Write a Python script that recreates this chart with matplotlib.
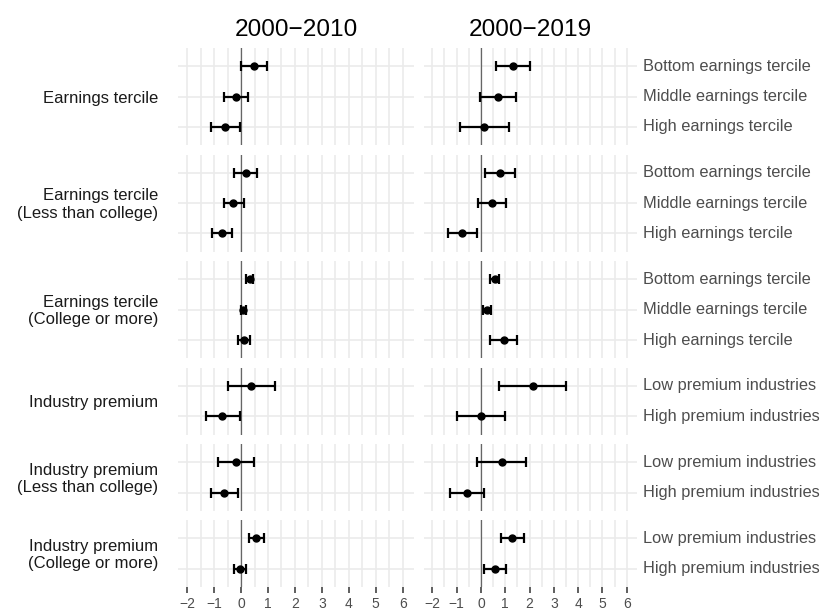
import numpy as np
import matplotlib
matplotlib.use('Agg')
import matplotlib.pyplot as plt

plt.rcParams['font.family'] = ['Liberation Sans', 'DejaVu Sans']

# row groups (left labels) and how many categories each one has
groups = ['Earnings tercile',
          'Earnings tercile\n(Less than college)',
          'Earnings tercile\n(College or more)',
          'Industry premium',
          'Industry premium\n(Less than college)',
          'Industry premium\n(College or more)']
terciles = ['Bottom earnings tercile', 'Middle earnings tercile', 'High earnings tercile']
premiums = ['Low premium industries', 'High premium industries']
group_cats = [terciles, terciles, terciles, premiums, premiums, premiums]

periods = ['2000\u22122010', '2000\u22122019']

# estimates and 95% CI, flattened in group order (top to bottom)
est_2010 = [0.48, -0.20, -0.59, 0.17, -0.28, -0.70, 0.32, 0.09, 0.10,
            0.36, -0.69, -0.20, -0.64, 0.56, -0.04]
lo_2010 = [-0.02, -0.63, -1.12, -0.26, -0.65, -1.07, 0.19, -0.02, -0.13,
           -0.50, -1.31, -0.87, -1.13, 0.29, -0.27]
hi_2010 = [0.98, 0.26, -0.04, 0.59, 0.10, -0.32, 0.46, 0.20, 0.35,
           1.25, -0.04, 0.48, -0.13, 0.84, 0.20]

est_2019 = [1.34, 0.70, 0.14, 0.79, 0.45, -0.78, 0.58, 0.25, 0.95,
            2.15, 0.00, 0.85, -0.58, 1.29, 0.60]
lo_2019 = [0.63, -0.02, -0.85, 0.18, -0.11, -1.37, 0.38, 0.08, 0.38,
           0.75, -1.00, -0.14, -1.28, 0.82, 0.12]
hi_2019 = [2.03, 1.43, 1.14, 1.40, 1.04, -0.18, 0.75, 0.41, 1.49,
           3.52, 1.01, 1.86, 0.14, 1.78, 1.05]

series = [(est_2010, lo_2010, hi_2010), (est_2019, lo_2019, hi_2019)]

W, H = 837, 611
fig = plt.figure(figsize=(W / 100, H / 100), dpi=100)

# panel geometry in pixels
col_x = [(178, 414), (424, 637)]
top = 48
unit = 30.34
gap = 9.5
xlim = (-2.34, 6.42)

grid_col = '#ebebeb'
text_grey = '#4d4d4d'

k = 0
y_px = top
for g, cats in enumerate(group_cats):
    n = len(cats)
    h = (n + 0.2) * unit
    for c in range(2):
        x0, x1 = col_x[c]
        ax = fig.add_axes([x0 / W, 1 - (y_px + h) / H, (x1 - x0) / W, h / H])
        ax.set_xlim(*xlim)
        ax.set_ylim(0.4, n + 0.6)
        for s in ax.spines.values():
            s.set_visible(False)
        ax.set_xticks(np.arange(-2, 7, 1))
        ax.set_xticks(np.arange(-1.5, 6.5, 1), minor=True)
        ax.set_yticks(np.arange(1, n + 1))
        ax.grid(True, which='both', axis='x', color=grid_col, lw=1.2)
        ax.grid(True, which='major', axis='y', color=grid_col, lw=1.2)
        ax.set_axisbelow(True)
        ax.tick_params(axis='y', length=0, labelleft=False)
        ax.tick_params(axis='x', which='minor', length=0)
        if g == len(group_cats) - 1:
            ax.tick_params(axis='x', which='major', length=4, width=1.1,
                           color='#333333', labelsize=10, labelcolor=text_grey, pad=3)
        else:
            ax.tick_params(axis='x', which='major', length=0, labelbottom=False)
        ax.axvline(0, color='#666666', lw=0.9, zorder=1)

        est, lo, hi = series[c]
        ys = n - np.arange(n)
        e = np.array(est[k:k + n])
        l = np.array(lo[k:k + n])
        u = np.array(hi[k:k + n])
        ax.errorbar(e, ys, xerr=[e - l, u - e], fmt='o', color='black', ms=5,
                    elinewidth=1.6, capsize=3.4, capthick=1.6, zorder=3)

        if c == 1:
            for yy, lab in zip(ys, cats):
                ax.text(1.028, (yy - 0.4) / (n + 0.2), lab, transform=ax.transAxes,
                        ha='left', va='center', fontsize=11.8, color=text_grey)
        if g == 0:
            ax.set_title(periods[c], fontsize=17.6, pad=9, color='black')
    fig.text(158 / W, 1 - (y_px + h / 2 + 1.5) / H, groups[g], ha='right', va='center',
             fontsize=12, color='#1a1a1a', linespacing=1.2)
    k += n
    y_px += h + gap

fig.savefig('out.png', dpi=100)
